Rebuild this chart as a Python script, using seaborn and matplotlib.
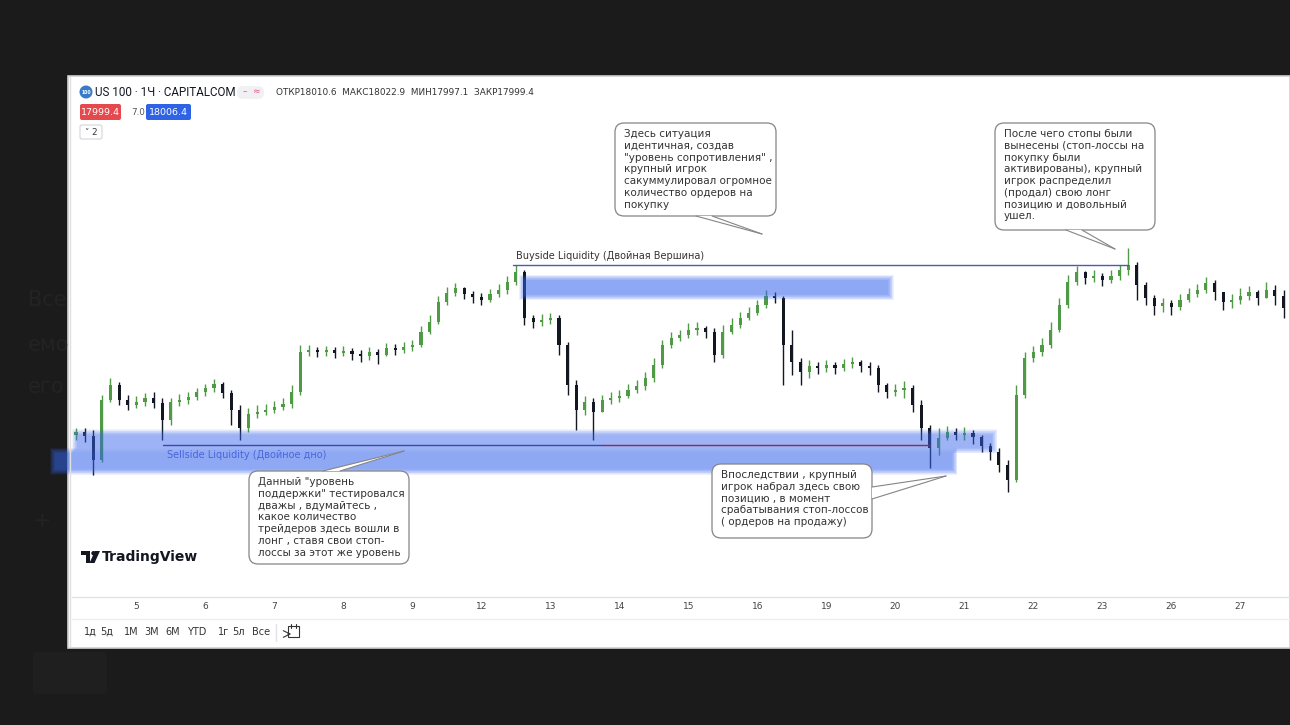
import numpy as np
import matplotlib.pyplot as plt
import seaborn as sns
from matplotlib.patches import Rectangle, FancyBboxPatch, Polygon, Circle

# ---- data (US100, 1H candles) ----
first_open = 17465
closes = [17474, 17462, 17390, 17570, 17615, 17570, 17555, 17564, 17576, 17561,
          17510, 17564, 17570, 17579, 17594, 17606, 17618, 17591, 17540, 17486,
          17528, 17534, 17540, 17549, 17558, 17594, 17714, 17720, 17714, 17720,
          17711, 17717, 17708, 17702, 17714, 17705, 17726, 17720, 17729, 17735,
          17774, 17804, 17864, 17891, 17906, 17888, 17879, 17870, 17888, 17900,
          17924, 17954, 17816, 17804, 17810, 17816, 17735, 17615, 17540, 17564,
          17534, 17570, 17576, 17582, 17600, 17612, 17636, 17675, 17735, 17756,
          17765, 17780, 17786, 17774, 17705, 17774, 17795, 17816, 17831, 17855,
          17882, 17876, 17735, 17684, 17654, 17672, 17666, 17675, 17666, 17678,
          17684, 17672, 17666, 17615, 17594, 17600, 17606, 17555, 17486, 17426,
          17456, 17474, 17465, 17471, 17459, 17432, 17414, 17375, 17330, 17585,
          17696, 17714, 17735, 17780, 17855, 17924, 17954, 17936, 17942, 17930,
          17942, 17960, 17975, 17915, 17876, 17852, 17861, 17849, 17870, 17888,
          17900, 17921, 17894, 17864, 17870, 17882, 17894, 17876, 17900, 17882,
          17846]
highs = [17486, 17486, 17480, 17585, 17636, 17624, 17585, 17582, 17591, 17594,
         17576, 17576, 17588, 17594, 17606, 17618, 17633, 17624, 17600, 17555,
         17546, 17555, 17558, 17567, 17576, 17615, 17735, 17735, 17729, 17732,
         17729, 17732, 17726, 17720, 17729, 17723, 17741, 17738, 17744, 17750,
         17792, 17825, 17882, 17909, 17921, 17909, 17897, 17891, 17903, 17918,
         17942, 17975, 17960, 17825, 17828, 17831, 17825, 17744, 17630, 17582,
         17576, 17585, 17594, 17600, 17618, 17630, 17654, 17696, 17750, 17774,
         17780, 17801, 17804, 17792, 17786, 17795, 17816, 17834, 17849, 17870,
         17900, 17894, 17882, 17780, 17696, 17690, 17684, 17690, 17684, 17693,
         17699, 17690, 17684, 17675, 17621, 17618, 17627, 17615, 17570, 17495,
         17486, 17492, 17486, 17489, 17480, 17465, 17441, 17426, 17390, 17615,
         17714, 17732, 17756, 17804, 17876, 17945, 17972, 17957, 17960, 17951,
         17960, 17975, 18026, 17984, 17924, 17885, 17876, 17870, 17888, 17906,
         17918, 17939, 17930, 17894, 17888, 17906, 17912, 17900, 17924, 17915,
         17900]
lows = [17450, 17444, 17345, 17384, 17564, 17555, 17540, 17546, 17552, 17546,
        17450, 17495, 17552, 17558, 17570, 17582, 17594, 17576, 17495, 17450,
        17474, 17516, 17525, 17531, 17540, 17546, 17585, 17702, 17699, 17702,
        17696, 17702, 17690, 17684, 17690, 17678, 17702, 17705, 17711, 17717,
        17729, 17768, 17798, 17855, 17882, 17873, 17861, 17855, 17864, 17879,
        17888, 17915, 17795, 17786, 17792, 17798, 17705, 17585, 17480, 17525,
        17450, 17540, 17558, 17564, 17576, 17591, 17600, 17624, 17666, 17726,
        17747, 17756, 17765, 17756, 17684, 17696, 17768, 17786, 17810, 17825,
        17846, 17861, 17615, 17645, 17615, 17636, 17648, 17654, 17648, 17657,
        17666, 17654, 17645, 17594, 17576, 17582, 17576, 17534, 17450, 17366,
        17405, 17450, 17450, 17450, 17438, 17414, 17390, 17354, 17294, 17324,
        17576, 17684, 17702, 17726, 17774, 17846, 17915, 17918, 17924, 17912,
        17921, 17930, 17945, 17870, 17855, 17825, 17834, 17825, 17840, 17864,
        17879, 17891, 17870, 17840, 17846, 17858, 17870, 17855, 17879, 17855,
        17816]

day_labels = ["5", "6", "7", "8", "9", "12", "13", "14", "15", "16",
              "19", "20", "21", "22", "23", "26", "27"]
bars_per_day = 8
first_day_bar = 7

range_buttons = ["1д", "5д", "1М", "3М", "6М", "YTD", "1г", "5л", "Все"]

note_resistance = ["Здесь ситуация", "идентичная, создав", "\"уровень сопротивления\" ,",
                   "крупный игрок", "сакуммулировал огромное", "количество ордеров на",
                   "покупку"]
note_distribution = ["После чего стопы были", "вынесены (стоп-лоссы на", "покупку были",
                     "активированы), крупный", "игрок распределил", "(продал) свою лонг",
                     "позицию и довольный", "ушел."]
note_support = ["Данный \"уровень", "поддержки\" тестировался", "дважы , вдумайтесь ,",
                "какое количество", "трейдеров здесь вошли в", "лонг , ставя свои стоп-",
                "лоссы за этот же уровень"]
note_accum = ["Впоследствии , крупный", "игрок набрал здесь свою", "позицию , в момент",
              "срабатывания стоп-лоссов", "( ордеров на продажу)"]

GREEN = '#4f9a45'
DOWN = '#131722'
ZONE = '#3a68f0'
W, H = 1290, 725

sns.set_theme(style="white")
plt.rcParams['font.family'] = ['DejaVu Sans']

fig = plt.figure(figsize=(W / 100, H / 100), dpi=100, facecolor='#1b1b1b')

# background layer: dark page + white chart panel
bg = fig.add_axes([0, 0, 1, 1], zorder=0)
bg.set_xlim(0, W)
bg.set_ylim(H, 0)
bg.axis('off')
for txt, yy in [("Все", 300), ("емо", 345), ("его", 387)]:
    bg.text(28, yy, txt, fontsize=15, color='#232323', va='center')
bg.text(33, 521, "+", fontsize=16, color='#232323', va='center')
bg.add_patch(FancyBboxPatch((33, 652), 74, 42, boxstyle="round,pad=0,rounding_size=4",
                            fc='#1f1f1f', ec='none'))
bg.add_patch(Rectangle((68, 76), W - 68, 572, fc='white', ec='#d0d0d0', lw=1.2))

# price pane
ax = fig.add_axes([72 / W, 1 - 596 / H, (W - 72) / W, (596 - 78) / H], zorder=1)
ax.set_facecolor('none')
for s in ax.spines.values():
    s.set_visible(False)

closes = np.array(closes, dtype=float)
opens = np.r_[first_open, closes[:-1]]
hi = np.maximum.reduce([np.array(highs, float), opens, closes])
lo = np.minimum.reduce([np.array(lows, float), opens, closes])
idx = np.arange(len(closes))
up = closes >= opens
colors = np.where(up, GREEN, DOWN)

ax.vlines(idx, lo, hi, colors=colors, lw=1.0, zorder=2)
ax.bar(idx, np.maximum(np.abs(closes - opens), 4), bottom=np.minimum(opens, closes),
       width=0.36, color=colors, lw=0, zorder=3)

ax.set_xlim(-0.46, 140.75)
ax.set_ylim(16982, 18536)
ax.set_yticks([])
day_pos = [first_day_bar + bars_per_day * k for k in range(len(day_labels))]
ax.set_xticks(day_pos, labels=day_labels)
ax.tick_params(axis='x', length=0, pad=4, labelsize=6.5, labelcolor='#444444')


def zone(x0, x1, y0, y1, clip=True, strength=0.085):
    # soft-edged rectangle (the drawing looks blurred in the screenshot)
    for k in range(9):
        dx, dy = 0.075 * k, 2.0 * k
        ax.add_patch(Rectangle((x0 + dx, y0 + dy), (x1 - x0) - 2 * dx, (y1 - y0) - 2 * dy,
                               fc=ZONE, ec='none', alpha=strength, zorder=4, clip_on=clip))


# sellside zone (double bottom) and buyside zone (double top)
zone(-0.46, 106.8, 17410, 17482, strength=0.07)
zone(-3.0, 102.2, 17346, 17426, clip=False)
zone(51.4, 94.8, 17870, 17945)

ax.plot([10.1, 61], [17435, 17435], color='#3949ab', lw=1, zorder=5)
ax.plot([61, 99], [17435, 17435], color='#8b2d4f', lw=1, zorder=5)
ax.text(10.6, 17405, "Sellside Liquidity (Двойное дно)", fontsize=7, color='#3d5bd6',
        alpha=0.85, va='center', zorder=6)

buy_level = highs[51]
ax.plot([50.7, 122], [buy_level, buy_level], color='#4a5bb5', lw=1, zorder=5)
ax.text(51.0, buy_level + 27, "Buyside Liquidity (Двойная Вершина)", fontsize=7,
        color='#333333', va='center', zorder=6)

# overlay layer in pixel coordinates (header, callouts, toolbar)
ov = fig.add_axes([0, 0, 1, 1], zorder=2)
ov.set_xlim(0, W)
ov.set_ylim(H, 0)
ov.axis('off')
ov.patch.set_alpha(0)

ov.add_patch(Circle((86, 92), 6.5, fc='#3a7bc8', ec='none'))
ov.text(86, 92.5, "100", fontsize=3.3, color='white', ha='center', va='center', weight='bold')
ov.text(95, 92, "US 100 · 1Ч · CAPITALCOM", fontsize=8.4, color='#131722', va='center',
        family=['Roboto', 'DejaVu Sans'])
ov.add_patch(FancyBboxPatch((237, 86), 27, 13, boxstyle="round,pad=0,rounding_size=6",
                            fc='#f1f1f4', ec='none'))
ov.text(245, 92, "–", fontsize=6.5, color='#888888', ha='center', va='center')
ov.text(256, 92, "≈", fontsize=6.5, color='#e05a8a', ha='center', va='center')
ov.text(276, 92, "ОТКР18010.6  МАКС18022.9  МИН17997.1  ЗАКР17999.4", fontsize=6.4,
        color='#333333', va='center')
ov.add_patch(FancyBboxPatch((80, 104), 41, 16, boxstyle="round,pad=0,rounding_size=2",
                            fc='#e5484d', ec='none'))
ov.text(100.5, 112, "17999.4", fontsize=6.8, color='white', ha='center', va='center')
ov.text(131, 112, "7.0", fontsize=6.3, color='#555555', va='center')
ov.add_patch(FancyBboxPatch((146, 104), 45, 16, boxstyle="round,pad=0,rounding_size=2",
                            fc='#2f63e6', ec='none'))
ov.text(168.5, 112, "18006.4", fontsize=6.8, color='white', ha='center', va='center')
ov.add_patch(FancyBboxPatch((80, 125), 22, 14, boxstyle="round,pad=0,rounding_size=2",
                            fc='white', ec='#d1d4dc', lw=0.8))
ov.text(91, 132, "˅ 2", fontsize=6.3, color='#333333', ha='center', va='center')


def callout(x0, y0, x1, y1, lines, base, tip):
    ov.add_patch(FancyBboxPatch((x0, y0), x1 - x0, y1 - y0,
                                boxstyle="round,pad=0,rounding_size=9",
                                fc='white', ec='#858585', lw=0.9, zorder=5))
    ov.add_patch(Polygon([base[0], base[1], tip], closed=True, fc='white', ec='none', zorder=6))
    for b in base:
        ov.plot([b[0], tip[0]], [b[1], tip[1]], color='#858585', lw=0.8, zorder=7)
    ov.text(x0 + 9, y0 + 6, "\n".join(lines), fontsize=7.5, color='#333333',
            va='top', ha='left', linespacing=1.22, zorder=8)


callout(615, 123, 776, 216, note_resistance, [(696, 216), (712, 216)], (762, 234))
callout(995, 123, 1155, 230, note_distribution, [(1066, 230), (1082, 230)], (1115, 249))
callout(249, 471, 409, 564, note_support, [(323, 471), (340, 471)], (404, 451))
callout(712, 464, 872, 538, note_accum, [(872, 487), (872, 499)], (946, 476))

# TradingView watermark
ov.add_patch(Rectangle((81, 551), 9, 4, fc='#131722', ec='none'))
ov.add_patch(Rectangle((85.5, 551), 4.5, 12, fc='#131722', ec='none'))
ov.add_patch(Circle((93.5, 553.2), 2.2, fc='#131722', ec='none'))
ov.add_patch(Polygon([(95, 551), (100, 551), (94.5, 563), (89.5, 563)], fc='#131722', ec='none'))
ov.text(102, 557.5, "TradingView", fontsize=10, weight='bold', color='#131722', va='center')

# time axis row and toolbar
ov.plot([72, W], [597, 597], color='#e0e3eb', lw=1)
ov.plot([72, W], [619, 619], color='#eeeeee', lw=1)
ov.plot([70, 70], [77, 647], color='#e0e0e0', lw=1)
for lab, xx in zip(range_buttons, [84, 100, 124, 144, 165, 187, 218, 232, 252]):
    ov.text(xx, 632, lab, fontsize=7, color='#333333', va='center')
ov.plot([276, 276], [624, 641], color='#e0e3eb', lw=1)
ov.add_patch(Rectangle((288, 626), 11, 11, fc='none', ec='#333333', lw=0.8))
ov.plot([291, 291], [624, 628], color='#333333', lw=0.8)
ov.plot([296, 296], [624, 628], color='#333333', lw=0.8)
ov.annotate("", xy=(294, 634), xytext=(285, 634),
            arrowprops=dict(arrowstyle='->', color='#333333', lw=0.8))

fig.savefig("out.png", dpi=100, facecolor=fig.get_facecolor())
plt.close(fig)
